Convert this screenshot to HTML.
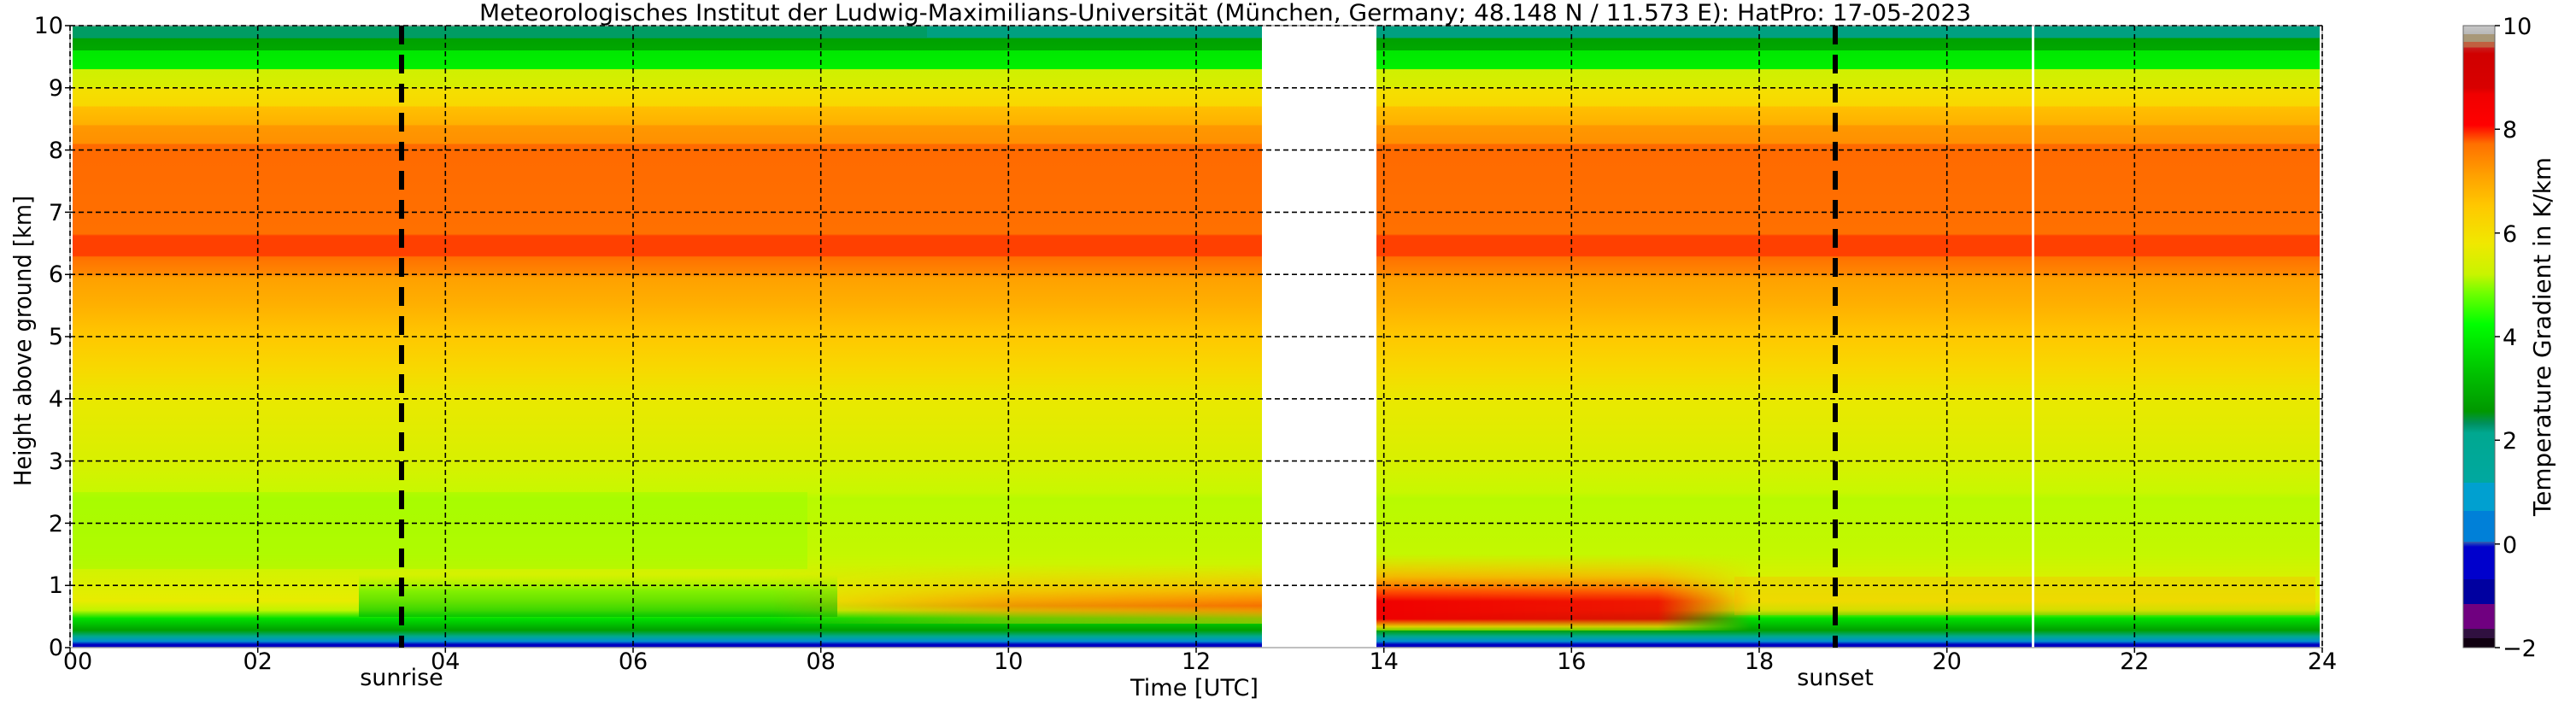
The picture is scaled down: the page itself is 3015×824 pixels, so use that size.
<!DOCTYPE html>
<html><head><meta charset="utf-8"><style>
html,body{margin:0;padding:0;background:#fff;}
svg{display:block;}
text{font-family:"DejaVu Sans","Liberation Sans",sans-serif;fill:#000;}
</style></head><body>
<svg width="3015" height="824" viewBox="0 0 3015 824" xmlns="http://www.w3.org/2000/svg">
<defs>
<linearGradient id="base" x1="0" y1="30" x2="0" y2="758" gradientUnits="userSpaceOnUse">
<stop offset="0" stop-color="#00a080"/><stop offset="0.02" stop-color="#00a080"/>
<stop offset="0.02" stop-color="#00a000"/><stop offset="0.04" stop-color="#00a800"/>
<stop offset="0.04" stop-color="#00e800"/><stop offset="0.07" stop-color="#00f000"/>
<stop offset="0.07" stop-color="#d0f000"/><stop offset="0.10" stop-color="#d8ee00"/>
<stop offset="0.10" stop-color="#f4e000"/><stop offset="0.13" stop-color="#f8d800"/>
<stop offset="0.13" stop-color="#ffc000"/><stop offset="0.16" stop-color="#ffb000"/>
<stop offset="0.16" stop-color="#ff9800"/><stop offset="0.19" stop-color="#ff9000"/>
<stop offset="0.19" stop-color="#ff6a00"/><stop offset="0.335" stop-color="#ff7000"/>
<stop offset="0.338" stop-color="#ff4000"/><stop offset="0.37" stop-color="#ff4000"/>
<stop offset="0.372" stop-color="#ff7000"/><stop offset="0.40" stop-color="#ff8800"/>
<stop offset="0.405" stop-color="#ffa000"/><stop offset="0.45" stop-color="#ffb000"/>
<stop offset="0.50" stop-color="#ffc800"/><stop offset="0.55" stop-color="#f8d800"/>
<stop offset="0.60" stop-color="#eae800"/><stop offset="0.70" stop-color="#d8f000"/>
<stop offset="0.75" stop-color="#c8f800"/><stop offset="0.76" stop-color="#b8fa00"/>
<stop offset="0.85" stop-color="#c4f800"/><stop offset="0.88" stop-color="#d4f200"/>
<stop offset="0.925" stop-color="#e8ec00"/><stop offset="0.94" stop-color="#c0f400"/>
<stop offset="0.953" stop-color="#00e000"/><stop offset="0.972" stop-color="#00a000"/>
<stop offset="0.982" stop-color="#00a890"/><stop offset="0.99" stop-color="#0090d0"/>
<stop offset="0.995" stop-color="#0000c0"/><stop offset="1" stop-color="#0000c0"/>
</linearGradient>
<linearGradient id="cb" x1="0" y1="30" x2="0" y2="758" gradientUnits="userSpaceOnUse">
<stop offset="0" stop-color="#c8c8c8"/><stop offset="0.014" stop-color="#b8b8b8"/>
<stop offset="0.014" stop-color="#a89878"/><stop offset="0.026" stop-color="#a89878"/>
<stop offset="0.026" stop-color="#c06040"/><stop offset="0.035" stop-color="#c06040"/>
<stop offset="0.035" stop-color="#c82020"/><stop offset="0.045" stop-color="#d00000"/>
<stop offset="0.10" stop-color="#d80000"/><stop offset="0.11" stop-color="#f00000"/>
<stop offset="0.16" stop-color="#ff0000"/><stop offset="0.19" stop-color="#ff7000"/>
<stop offset="0.24" stop-color="#ffa000"/><stop offset="0.29" stop-color="#ffc800"/>
<stop offset="0.35" stop-color="#f0e800"/><stop offset="0.40" stop-color="#c8f400"/>
<stop offset="0.43" stop-color="#70ff00"/><stop offset="0.48" stop-color="#00ff00"/>
<stop offset="0.56" stop-color="#00c000"/><stop offset="0.62" stop-color="#009800"/>
<stop offset="0.64" stop-color="#009060"/><stop offset="0.655" stop-color="#00a890"/>
<stop offset="0.735" stop-color="#00a8a0"/><stop offset="0.735" stop-color="#00a0d0"/>
<stop offset="0.78" stop-color="#00a0d0"/><stop offset="0.78" stop-color="#0080d8"/>
<stop offset="0.83" stop-color="#0080d8"/><stop offset="0.83" stop-color="#3060b0"/>
<stop offset="0.838" stop-color="#0000cc"/><stop offset="0.89" stop-color="#0000cc"/>
<stop offset="0.89" stop-color="#0000a0"/><stop offset="0.93" stop-color="#0000a0"/>
<stop offset="0.93" stop-color="#700080"/><stop offset="0.97" stop-color="#700080"/>
<stop offset="0.97" stop-color="#301040"/><stop offset="0.985" stop-color="#301040"/>
<stop offset="0.985" stop-color="#100010"/><stop offset="1" stop-color="#100010"/>
</linearGradient>
<linearGradient id="redv" x1="0" y1="0" x2="0" y2="1">
<stop offset="0" stop-color="#ffc000" stop-opacity="0"/>
<stop offset="0.3" stop-color="#ffa000" stop-opacity="0.7"/>
<stop offset="0.5" stop-color="#ff4000" stop-opacity="0.95"/>
<stop offset="0.62" stop-color="#f00000" stop-opacity="1"/>
<stop offset="0.85" stop-color="#f00000" stop-opacity="1"/>
<stop offset="0.95" stop-color="#ffd000" stop-opacity="0.9"/>
<stop offset="1" stop-color="#c0f000" stop-opacity="0.6"/>
</linearGradient>
<linearGradient id="orv" x1="0" y1="0" x2="0" y2="1">
<stop offset="0" stop-color="#ffc000" stop-opacity="0"/>
<stop offset="0.45" stop-color="#ffa000" stop-opacity="0.7"/>
<stop offset="0.7" stop-color="#ff5000" stop-opacity="0.8"/>
<stop offset="1" stop-color="#ffd000" stop-opacity="0.5"/>
</linearGradient>
<linearGradient id="orh" x1="0" y1="0" x2="1" y2="0">
<stop offset="0" stop-color="#fff" stop-opacity="0"/>
<stop offset="0.5" stop-color="#fff" stop-opacity="0.7"/>
<stop offset="1" stop-color="#fff" stop-opacity="1"/>
</linearGradient>
<mask id="fadeR"><rect x="900" y="600" width="580" height="160" fill="url(#orh)"/></mask>
<linearGradient id="redh" x1="0" y1="0" x2="1" y2="0">
<stop offset="0" stop-color="#fff" stop-opacity="1"/>
<stop offset="0.75" stop-color="#fff" stop-opacity="0.9"/>
<stop offset="1" stop-color="#fff" stop-opacity="0"/>
</linearGradient>
<mask id="fadeL"><rect x="1611" y="600" width="440" height="160" fill="url(#redh)"/></mask>
<linearGradient id="grv" x1="0" y1="0" x2="0" y2="1">
<stop offset="0" stop-color="#80ff00" stop-opacity="0"/>
<stop offset="0.4" stop-color="#40f000" stop-opacity="0.6"/>
<stop offset="1" stop-color="#00c000" stop-opacity="0.8"/>
</linearGradient>
<clipPath id="pc"><rect x="85" y="30" width="2630" height="728"/></clipPath>
</defs>

<g clip-path="url(#pc)">
<rect x="82" y="30" width="2636" height="728" fill="url(#base)"/>
<rect x="85" y="30" width="1000" height="15" fill="#009a50" opacity="0.6"/>
<rect x="85" y="576" width="860" height="90" fill="#90ff00" opacity="0.4"/>
<rect x="420" y="672" width="560" height="50" fill="url(#grv)"/>
<g mask="url(#fadeR)"><rect x="900" y="660" width="580" height="70" fill="url(#orv)"/></g>
<g mask="url(#fadeL)"><rect x="1611" y="648" width="440" height="90" fill="url(#redv)"/></g>
<rect x="2030" y="675" width="680" height="45" fill="#ffb000" opacity="0.3"/>
<rect x="1477" y="30" width="134" height="728" fill="#fff"/>
<rect x="2378" y="30" width="3" height="728" fill="#fff"/>
</g>

<rect x="82" y="30" width="2636" height="728" fill="none" stroke="#aaa" stroke-width="1.5"/>

<g stroke="#000" stroke-width="1.6" stroke-dasharray="6,4" fill="none">
<path d="M82 30V758M301.7 30V758M521.3 30V758M741 30V758M960.7 30V758M1180.3 30V758M1400 30V758M1619.7 30V758M1839.3 30V758M2059 30V758M2278.7 30V758M2498.3 30V758M2718 30V758"/>
<path d="M82 30H2718M82 102.8H2718M82 175.6H2718M82 248.4H2718M82 321.2H2718M82 394H2718M82 466.8H2718M82 539.6H2718M82 612.4H2718M82 685.2H2718"/>
</g>
<g stroke="#000" stroke-width="6" stroke-dasharray="22,12" fill="none">
<path d="M470 30V758M2148 30V758"/>
</g>
<g stroke="#000" stroke-width="1.5">
<path d="M76 30H82M76 102.8H82M76 175.6H82M76 248.4H82M76 321.2H82M76 394H82M76 466.8H82M76 539.6H82M76 612.4H82M76 685.2H82M76 758H82"/>
<path d="M82 758v6M301.7 758v6M521.3 758v6M741 758v6M960.7 758v6M1180.3 758v6M1400 758v6M1619.7 758v6M1839.3 758v6M2059 758v6M2278.7 758v6M2498.3 758v6M2718 758v6"/>
</g>

<g font-size="27" text-anchor="end">
<text x="74" y="39">10</text><text x="74" y="112">9</text><text x="74" y="185">8</text>
<text x="74" y="258">7</text><text x="74" y="330">6</text><text x="74" y="403">5</text>
<text x="74" y="476">4</text><text x="74" y="549">3</text><text x="74" y="622">2</text>
<text x="74" y="694">1</text><text x="74" y="767">0</text>
</g>
<g font-size="27" text-anchor="middle">
<text x="91" y="783">00</text><text x="301.7" y="783">02</text><text x="521.3" y="783">04</text>
<text x="741" y="783">06</text><text x="960.7" y="783">08</text><text x="1180.3" y="783">10</text>
<text x="1400" y="783">12</text><text x="1619.7" y="783">14</text><text x="1839.3" y="783">16</text>
<text x="2059" y="783">18</text><text x="2278.7" y="783">20</text><text x="2498.3" y="783">22</text>
<text x="2718" y="783">24</text>
<text x="470" y="802">sunrise</text><text x="2148" y="802">sunset</text>
<text x="1398" y="814" textLength="150" lengthAdjust="spacingAndGlyphs">Time [UTC]</text>
</g>
<text x="1434" y="24" font-size="27" text-anchor="middle" textLength="1746" lengthAdjust="spacingAndGlyphs">Meteorologisches Institut der Ludwig-Maximilians-Universität (München, Germany; 48.148 N / 11.573 E):    HatPro: 17-05-2023</text>
<text transform="translate(36,399) rotate(-90)" font-size="28" text-anchor="middle" textLength="340" lengthAdjust="spacingAndGlyphs">Height above ground [km]</text>

<rect x="2883" y="30" width="37" height="728" fill="url(#cb)" stroke="#666" stroke-width="1"/>
<g stroke="#000" stroke-width="1.5">
<path d="M2920 30h6M2920 151.3h6M2920 272.7h6M2920 394h6M2920 515.3h6M2920 636.7h6M2920 758h6"/>
</g>
<g font-size="27">
<text x="2929" y="40">10</text><text x="2929" y="161">8</text><text x="2929" y="283">6</text>
<text x="2929" y="404">4</text><text x="2929" y="525">2</text><text x="2929" y="647">0</text>
<text x="2929" y="768">−2</text>
</g>
<text transform="translate(2985,394) rotate(-90)" font-size="28" text-anchor="middle" textLength="420" lengthAdjust="spacingAndGlyphs">Temperature Gradient in K/km</text>
</svg>
</body></html>
